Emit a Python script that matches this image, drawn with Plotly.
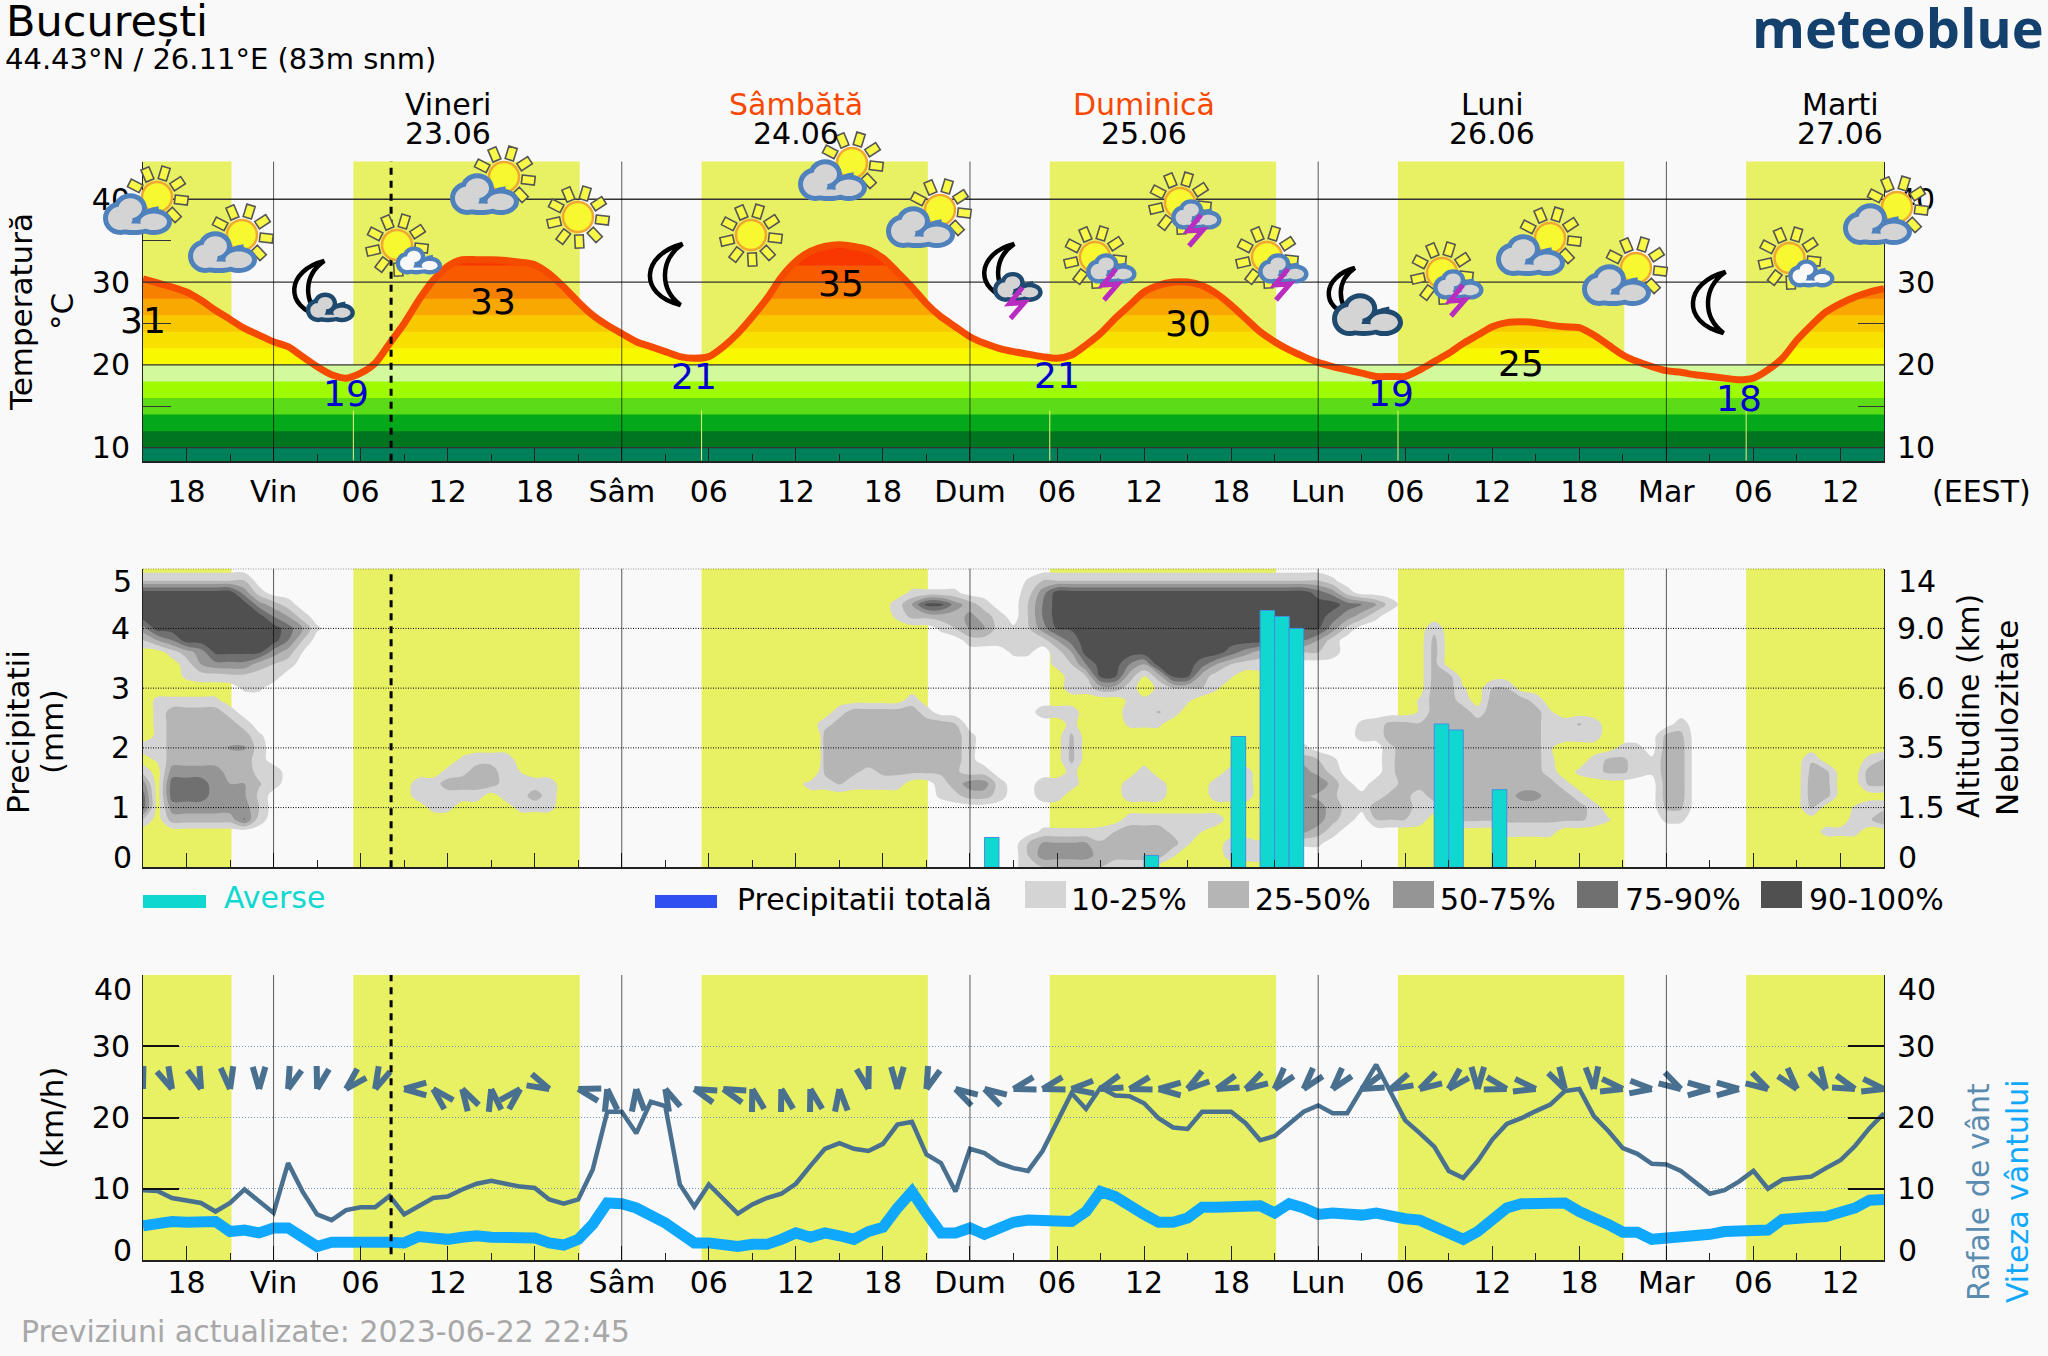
import math
import numpy as np
import plotly.graph_objects as go

# ---------- canvas / layout geometry ----------
W, H = 2048, 1356
LEFT, RIGHT = 143, 1884
P1 = (161.5, 460.7)
P2 = (568.7, 867.3)
P3 = (975.0, 1260.0)
T_RANGE = [8.43, 44.56]
BG = "#F9F9F9"
YELLOW = "#E8F064"
FONT = "DejaVu Sans"

# ---------- data ----------
HOURS = list(range(-9, 112))  # hours relative to Friday 00:00
TEMP = [30.4, 29.9, 29.4, 28.8, 27.8, 26.6, 25.5, 24.4, 23.6, 22.8, 22.2, 21.0, 19.8, 18.8, 18.4, 19.0, 20.2, 22.6, 25.0, 27.8, 30.2, 31.9, 32.7, 32.7, 32.7, 32.6, 32.4, 32.1, 31.0, 29.4, 27.6, 26.0, 24.8,
        23.8, 22.8, 22.2, 21.6, 21.0, 20.8, 21.0, 22.2, 23.8, 25.8, 28.0, 30.6, 32.5, 33.7, 34.3, 34.5, 34.3, 33.9, 32.9, 31.2, 29.4, 27.4, 25.8, 24.6,
        23.4, 22.6, 22.0, 21.6, 21.3, 21.0, 20.8, 21.2, 22.4, 23.8, 25.6, 27.2, 28.8, 29.6, 30.0, 30.0, 29.6, 28.6, 27.2, 25.6, 24.0, 22.8, 21.8, 21.0,
        20.3, 19.8, 19.4, 19.0, 18.6, 18.6, 18.6, 19.4, 20.4, 21.4, 22.6, 23.6, 24.6, 25.1, 25.2, 25.1, 24.8, 24.6, 24.5, 23.6, 22.4, 21.2, 20.4, 19.8,
        19.3, 19.1, 18.8, 18.6, 18.4, 18.2, 18.4, 19.4, 20.8, 23.0, 24.8, 26.4, 27.4, 28.2, 28.8, 29.2]
GUST = [9.8, 9.7, 8.7, 8.4, 8.0, 6.8, 8.0, 9.9, 8.2, 6.6, 13.6, 9.6, 6.4, 5.6, 7.0, 7.4, 7.4, 9.0, 6.4, 7.5, 8.7, 8.9, 9.9, 10.7, 11.1, 10.7, 10.3, 10.1, 8.5, 7.9, 8.5, 12.7, 20.8,
        20.8, 17.8, 22.2, 21.6, 10.6, 7.5, 10.6, 8.5, 6.5, 7.8, 8.7, 9.3, 10.7, 13.2, 15.6, 16.4, 15.6, 15.3, 16.3, 19.0, 19.4, 14.8, 13.6, 9.6,
        15.6, 15.0, 13.6, 12.9, 12.5, 15.3, 19.5, 23.4, 21.2, 24.2, 23.1, 23.0, 22.0, 19.9, 18.6, 18.4, 20.8, 20.8, 20.8, 19.2, 16.8, 17.4, 19.0, 20.8,
        21.7, 20.6, 20.6, 23.9, 27.4, 23.5, 19.6, 17.8, 15.9, 12.5, 11.5, 13.9, 16.9, 19.1, 19.9, 20.9, 21.8, 23.7, 24.0, 20.2, 18.1, 15.7, 14.9, 13.5,
        13.4, 12.5, 10.8, 9.3, 9.8, 11.0, 12.5, 10.0, 11.3, 11.5, 11.7, 12.9, 14.0, 16.0, 18.5, 20.6]
WIND = [4.8, 5.2, 5.4, 5.3, 5.3, 5.4, 4.0, 4.2, 3.8, 4.5, 4.5, 3.2, 1.9, 2.5, 2.6, 2.6, 2.5, 2.5, 2.4, 3.3, 3.2, 2.9, 3.2, 3.4, 3.2, 3.1, 3.1, 3.1, 2.4, 2.1, 2.9, 5.0, 8.0,
        7.9, 7.3, 6.4, 5.2, 3.8, 2.4, 2.4, 2.2, 1.9, 2.2, 2.2, 2.9, 3.8, 3.2, 3.8, 3.4, 2.9, 4.0, 4.6, 7.3, 9.6, 6.6, 3.8, 3.8,
        4.5, 3.6, 4.5, 5.3, 5.6, 5.6, 5.4, 5.4, 6.8, 9.6, 8.9, 7.5, 6.4, 5.3, 5.3, 5.9, 7.4, 7.4, 7.4, 7.6, 7.6, 6.6, 7.9, 7.3,
        6.4, 6.6, 6.5, 6.3, 6.6, 6.1, 5.8, 5.6, 4.7, 3.8, 2.9, 4.0, 5.9, 7.3, 7.9, 8.0, 8.0, 8.0, 6.8, 6.1, 5.0, 3.9, 3.9, 2.9,
        3.1, 3.1, 3.2, 3.6, 4.0, 4.0, 4.2, 4.2, 5.7, 6.0, 6.0, 6.1, 6.6, 7.3, 8.4, 8.5]
ARROW_HOURS = list(range(-9, 112, 2))
ARROW_DIR = [165, 155, 160, 172, 180, 200, 195, 225, 205, 270, 315, 330, 350, 45, 115, 285, 350, 355, 335, 290, 290, 345, 345, 345, 355, 165, 180, 200, 300, 300,
             255, 255, 265, 250, 255, 270, 235, 250, 240, 220, 220, 220, 250, 245, 240, 225, 180, 105, 100, 150, 175, 100, 95, 120, 90, 90, 120, 140, 150, 110, 100]
SHOWER_HOURS = [49, 60, 66, 68, 69, 70, 80, 81, 84]
SHOWER_MM = [0.5, 0.2, 2.19, 4.3, 4.2, 4.0, 2.4, 2.3, 1.3]
SUNRISE = [5.5, 29.5, 53.5, 77.5, 101.5]
SUNSET = [-2.9, 21.1, 45.1, 69.1, 93.1]
NOW_HOUR = 8.1
DAY_HOURS = [0, 24, 48, 72, 96]
XTICK_VALS = list(range(-6, 109, 6))
XTICK_TEXT = ["18", "Vin", "06", "12", "18", "Sâm", "06", "12", "18", "Dum", "06", "12", "18", "Lun", "06", "12", "18", "Mar", "06", "12"]
XMINOR_VALS = list(range(-3, 112, 6))
DAY_NAMES = ["Vineri", "Sâmbătă", "Duminică", "Luni", "Marti"]
DAY_DATES = ["23.06", "24.06", "25.06", "26.06", "27.06"]
DAY_NAME_COLORS = ["#000000", "#F84800", "#F84800", "#000000", "#000000"]
DAY_NOON = [12, 36, 60, 84, 108]
MAX_LABELS = [("31", -9.0, 25.4), ("33", 15.1, 27.6), ("35", 39.1, 29.8), ("30", 63.0, 25.0), ("25", 86.0, 20.2)]
MIN_LABELS = [("19", 5.0, 16.5), ("21", 29.0, 18.6), ("21", 54.0, 18.7), ("19", 77.0, 16.6), ("18", 101.0, 16.0)]
HOT_EDGES = [36, 34, 32, 30, 28, 26, 24, 22]
HOT_COLORS = ["#F82000", "#F83800", "#F85A00", "#F88000", "#F8A800", "#F8C800", "#F8E000", "#F8F800"]
COOL_EDGES = [20, 18, 16, 14, 12, 10]
COOL_COLORS = ["#D2F99B", "#9FFB00", "#5BDC16", "#03A81B", "#00751F", "#00805A"]
CLOUD_LABELS = ["10-25%", "25-50%", "50-75%", "75-90%", "90-100%"]
CLOUD_COLORS = ["#D4D4D4", "#B5B5B5", "#959595", "#707070", "#505050"]
ALT_TICKS = ["0", "1.5", "3.5", "6.0", "9.0", "14"]

# cloud cover class (0 none .. 5 = 90-100%) per altitude row: spans (first hour, last hour, class)
CLOUD_LEVELS = [round(0.2 * i, 1) for i in range(26)]
CLOUD_SPANS = {
    4.8: [(-9, -2, 1.5), (52, 52, .6), (53, 72, 1.5), (73, 73, .7)],
    4.6: [(-9, -3, 5), (-2, -2, 3), (-1, -1, 1), (44, 47, .7), (52, 52, 1), (53, 53, 3), (54, 71, 5), (72, 72, 4), (73, 73, 3), (74, 74, 1)],
    4.4: [(-9, -2, 5), (-1, -1, 3), (0, 0, 2), (1, 1, 1), (43, 43, 1), (44, 44, 2.5), (45, 46, 4.8), (47, 47, 3), (48, 48, 2), (49, 49, 1), (52, 52, 1.5), (53, 53, 3.5), (54, 73, 5), (74, 74, 4), (75, 75, 3.5), (76, 76, 2.5), (77, 77, 1)],
    4.2: [(-9, -1, 5), (0, 0, 3.5), (1, 1, 2.5), (2, 2, 1), (43, 43, .7), (44, 45, 1.8), (46, 47, 2), (48, 48, 2.8), (49, 49, 2), (50, 50, 1), (52, 52, 1.5), (53, 53, 3.5), (54, 72, 5), (73, 73, 4), (74, 74, 3), (75, 75, 2), (76, 76, .7)],
    4.0: [(-9, -9, 3), (-8, 0, 5), (1, 1, 4), (2, 2, 2.5), (3, 3, .7), (46, 46, .7), (47, 47, 1.5), (48, 49, 2.6), (50, 50, 1), (51, 51, .7), (52, 52, 1.3), (53, 53, 3), (54, 72, 4.6), (73, 73, 3), (74, 74, 1.2), (80, 80, 1.2)],
    3.8: [(-9, -9, 1.5), (-8, -8, 2.5), (-7, -7, 3.5), (-6, 0, 5), (1, 1, 3.5), (2, 2, 1.5), (48, 49, 1), (50, 51, 1), (52, 53, 1), (54, 54, 2.5), (55, 55, 4), (56, 68, 5), (69, 71, 3.5), (72, 72, 2.5), (73, 73, 1), (80, 80, 1.8)],
    3.6: [(-7, -7, 1), (-6, -6, 2), (-5, -5, 3), (-4, -1, 4.7), (0, 0, 3), (1, 1, 2), (2, 2, .5), (51, 52, .7), (54, 54, 1), (55, 55, 2.5), (56, 65, 5), (66, 66, 4), (67, 67, 3), (68, 68, 2), (69, 72, 1.5), (73, 73, 1), (80, 80, 1.9)],
    3.4: [(-6, -6, 1), (-5, -5, 2.5), (-4, -2, 3.2), (-1, -1, 2), (0, 0, 1.5), (1, 1, 1), (54, 54, .8), (55, 55, 1.5), (56, 56, 3.5), (57, 58, 5), (59, 59, 3.5), (60, 60, 2.5), (61, 63, 5), (64, 64, 4), (65, 65, 2.5), (66, 66, 1.5), (67, 68, 1), (80, 80, 1.9)],
    3.2: [(-6, -6, .7), (-5, -4, 1), (-3, -2, 1.2), (-1, 0, 1), (55, 55, 1), (56, 56, 1.5), (57, 58, 4.7), (59, 59, 2), (60, 60, .5), (61, 61, 2), (62, 63, 4.7), (64, 64, 2), (65, 65, 1), (66, 66, .6), (80, 81, 1.9)],
    3.0: [(-2, -1, .7), (55, 56, 1), (57, 58, 2), (59, 59, 1), (61, 61, .7), (62, 64, 1.5), (65, 65, .6), (80, 81, 2), (82, 82, .6), (84, 85, 1.5)],
    2.8: [(-8, -4, .7), (44, 44, 1), (59, 63, .7), (79, 79, .6), (80, 81, 2), (82, 82, 1), (84, 86, 2), (87, 87, 1)],
    2.6: [(-8, -8, .7), (-7, -4, 2), (-3, -3, 1), (39, 39, 1), (40, 44, 2), (45, 45, 1), (53, 55, 1), (59, 60, 1), (61, 61, 1.6), (62, 62, 1), (79, 79, .6), (80, 82, 2), (83, 83, 1), (84, 87, 2), (88, 88, .6)],
    2.4: [(-8, -8, .7), (-7, -3, 2), (-2, -2, 1), (38, 38, 1), (39, 46, 2), (47, 47, 1.5), (55, 55, .8), (59, 61, .7), (75, 75, .7), (76, 76, 1), (77, 78, 1.8), (79, 79, 1.6), (80, 87, 2), (88, 88, .6), (89, 89, 1), (90, 90, 1.6), (91, 91, 1), (97, 97, 1)],
    2.2: [(-8, -8, .7), (-7, -2, 2), (-1, -1, .7), (37, 37, -3), (38, 47, 2), (48, 48, .8), (55, 55, 1.7), (75, 76, .9), (77, 87, 2), (88, 88, .6), (89, 91, 1), (96, 97, 1.8)],
    2.0: [(-9, -9, 1), (-8, -8, .7), (-7, -4, 2), (-3, -2, 2.6), (-1, -1, 1), (37, 37, -3), (38, 47, 2), (48, 48, .8), (55, 55, 1.8), (70, 71, .8), (77, 77, 1.3), (78, 87, 2), (88, 88, .6), (93, 94, .8), (96, 97, 2)],
    1.8: [(-8, -8, .7), (-7, -2, 2), (-1, -1, 1), (13, 13, .7), (14, 16, 1.2), (37, 37, -3), (38, 47, 2), (48, 48, .8), (55, 55, 1.8), (69, 71, 2), (72, 72, 1.5), (73, 73, .7), (77, 77, 1.3), (78, 87, 2), (88, 88, .7), (91, 91, .8), (92, 93, 1.7), (94, 94, 1), (95, 95, .7), (96, 97, 2), (106, 106, 1.4), (110, 110, .8), (111, 111, 1.6)],
    1.6: [(-9, -9, 1.2), (-7, -4, 3), (-3, -2, 2), (-1, 0, 1.2), (12, 12, .8), (13, 13, 1.2), (14, 15, 1.9), (16, 16, 1), (17, 17, .5), (37, 37, -1), (38, 40, 1.7), (41, 41, 1.2), (42, 47, 1.7), (48, 49, 1), (55, 55, .8), (60, 60, 1), (66, 67, .9), (69, 70, 2), (71, 71, 3), (72, 72, 2), (73, 73, 1.2), (77, 77, 1.3), (78, 87, 2), (88, 88, .9), (90, 90, .7), (91, 91, 1.1), (92, 93, 1.7), (94, 94, 1), (95, 95, .7), (96, 97, 2), (106, 107, 1.8), (110, 111, 2)],
    1.4: [(-9, -9, 3), (-7, -5, 4), (-4, -4, 3), (-3, -2, 2.5), (-1, -1, 1.6), (0, 0, 1), (10, 11, 1), (12, 15, 2), (16, 16, 1), (17, 19, 1), (37, 43, 1), (39, 39, 1.6), (46, 46, 1), (47, 47, 2), (48, 49, 3), (50, 50, 1), (53, 55, 1), (59, 61, 1), (65, 67, 1), (69, 70, 2.5), (71, 72, 3.5), (73, 73, 2), (74, 74, .8), (76, 77, 1), (78, 88, 2), (89, 89, .8), (96, 97, 2), (106, 107, 2), (110, 111, 1.8)],
    1.2: [(-9, -9, 4), (-7, -5, 4), (-4, -3, 3), (-2, -2, 2.6), (-1, -1, 1.3), (10, 14, 1), (16, 17, 1), (18, 18, 2), (19, 19, 1), (46, 46, .7), (47, 47, 1.2), (48, 49, 2), (50, 50, 1), (53, 54, 1), (59, 61, 1), (65, 67, 1), (69, 71, 2.5), (72, 72, 2.2), (73, 73, 1.7), (74, 74, 1), (75, 75, .8), (76, 76, 1), (77, 78, 1.8), (79, 79, 1), (80, 85, 2), (86, 87, 2.8), (88, 89, 2), (90, 90, .9), (96, 97, 2), (106, 107, 2)],
    1.0: [(-9, -9, 4), (-7, -3, 3), (-2, -2, 3), (-1, -1, 1.5), (11, 12, .8), (17, 19, .8), (69, 70, 2), (71, 72, 3), (73, 73, 2), (74, 74, 1.2), (75, 75, .8), (76, 78, 2), (79, 80, 1), (81, 90, 2), (91, 91, 1), (96, 97, 1.7), (106, 106, 1.7), (109, 109, .6), (110, 111, 1.2)],
    0.8: [(-9, -9, 1.5), (-7, -3, 2), (-2, -2, 3.6), (-1, -1, 1), (59, 65, 1), (69, 71, 3), (72, 72, 3), (73, 73, 1.8), (74, 74, 1), (76, 78, 1.5), (79, 79, 1), (81, 81, .9), (82, 90, 1.7), (91, 91, 1.2), (92, 92, .6), (96, 97, .7), (109, 109, .9), (110, 110, 1.3), (111, 111, 2.6)],
    0.6: [(53, 56, .7), (57, 57, .8), (58, 58, 1.5), (59, 61, 2), (62, 63, 1.2), (64, 64, .5), (69, 71, 2.7), (72, 72, 2), (73, 73, 1), (85, 88, .9), (107, 109, .8)],
    0.4: [(52, 52, 1.5), (53, 56, 2.6), (57, 57, 1.7), (58, 62, 2), (63, 63, .6), (66, 68, 1), (68, 72, .7)],
    0.2: [(52, 52, 1.5), (53, 56, 3), (57, 57, 2), (58, 61, 2), (62, 62, .6), (66, 68, 1)],
    0.0: [(52, 57, 1.5), (58, 60, .7)],
}

# weather symbols: kind and the position of their sun or moon on the canvas
ICON_KIND = ["sc", "sc", "mc", "sw", "sc", "sun", "moon", "sun", "sc", "sc", "mt", "st", "st", "st", "mb", "st", "sc", "sc", "moon", "sw", "sc"]
ICON_X = [157, 242, 309.5, 397, 504, 578, 666.5, 751, 852, 940, 999.5, 1095, 1180, 1267, 1342, 1442, 1550, 1636, 1709.5, 1789.5, 1897]
ICON_Y = [197, 235, 288.5, 245, 177, 217, 274, 235, 163, 210, 271.5, 257, 203, 257, 292, 273, 238, 268, 302, 258, 207]


# ---------- helpers ----------
def px(x, y):
    return f"{x / W:.5f},{1 - y / H:.5f}"


def ellipse(cx, cy, rx, ry):
    k = 0.5523
    return (f"M{px(cx + rx, cy)} C{px(cx + rx, cy + k * ry)} {px(cx + k * rx, cy + ry)} {px(cx, cy + ry)} "
            f"C{px(cx - k * rx, cy + ry)} {px(cx - rx, cy + k * ry)} {px(cx - rx, cy)} "
            f"C{px(cx - rx, cy - k * ry)} {px(cx - k * rx, cy - ry)} {px(cx, cy - ry)} "
            f"C{px(cx + k * rx, cy - ry)} {px(cx + rx, cy - k * ry)} {px(cx + rx, cy)} Z")


def paper_shape(path, fill="rgba(0,0,0,0)", line=None, lw=0):
    return dict(type="path", xref="paper", yref="paper", path=path, fillcolor=fill, layer="above", fillrule="nonzero",
                line=dict(color=line or "rgba(0,0,0,0)", width=lw))


def sun(cx, cy):
    out, rays = [], ""
    for i in range(9):
        a = math.radians(17 + 40 * i)
        ux, uy = math.sin(a), -math.cos(a)
        vx, vy = -uy, ux
        pts = [(18, -4.3), (31, -4.3), (31, 4.3), (18, 4.3)]
        rays += "M" + " L".join(px(cx + r * ux + s * vx, cy + r * uy + s * vy) for r, s in pts) + " Z "
    out.append(paper_shape(rays, "#F8F848", "#555555", 1.6))
    out.append(paper_shape(ellipse(cx, cy, 15, 15), "#F8F830", "#F0A830", 2.5))
    return out


def cloud(cx, cy, s, fill="#D4D4D4", edge="#4F81BD"):
    lobes = [(-16.7, 3.3, 17.3, 16.7), (-6.7, -6.7, 16.7, 15), (16.7, 6.7, 18.3, 13.3), (-3.3, 11.7, 20, 8.3)]
    stroke = 5 * (0.6 + 0.4 * s)
    outer = " ".join(ellipse(cx + a * s, cy + b * s, c * s, d * s) for a, b, c, d in lobes)
    inner = " ".join(ellipse(cx + a * s, cy + b * s, c * s - stroke, d * s - stroke) for a, b, c, d in lobes)
    curl = f"M{px(cx + 1.7 * s, cy + 3.3 * s)} Q{px(cx + 8.3 * s, cy - 5 * s)} {px(cx + 21.7 * s, cy - 6.7 * s)}"
    return [paper_shape(outer, edge), paper_shape(inner, fill), paper_shape(curl, line=edge, lw=4 * (0.6 + 0.4 * s))]


def moon(cx, cy, s=1.0):
    q = lambda a, b: px(cx + a * s, cy + b * s)
    path = (f"M{q(16, -30)} C{q(-24, -20)} {q(-30, 20)} {q(14, 31)} "
            f"C{q(-7, 15)} {q(-7, -14)} {q(16, -30)} Z")
    return [paper_shape(path, "#F9F9F9", "#000000", 4.5)]


def bolt(cx, cy):
    pts = [(5, 2), (-8, 18), (7, 17), (-7, 33)]
    path = "M" + " L".join(px(cx + a, cy + b) for a, b in pts)
    return [paper_shape(path, line="#B82CC0", lw=5)]


DARK = "#1F4A70"


def icon(kind, x, y):
    if kind == "sun":
        return sun(x, y)
    if kind == "sc":
        return sun(x, y) + cloud(x - 20, y + 18, 1.0)
    if kind == "sw":
        return sun(x, y) + cloud(x + 21.5, y + 16, 0.67, "#F8F8F8")
    if kind == "st":
        return sun(x, y) + cloud(x + 16, y + 12, 0.73) + bolt(x + 16, y + 10)
    if kind == "moon":
        return moon(x, y)
    if kind == "mc":
        return moon(x, y, 0.92) + cloud(x + 20.5, y + 19.5, 0.71, edge=DARK)
    if kind == "mt":
        return moon(x, y, 0.92) + cloud(x + 18, y + 16, 0.72, edge=DARK) + bolt(x + 18, y + 14)
    if kind == "mb":
        return moon(x, y, 0.8) + cloud(x + 25, y + 23.5, 1.03, edge=DARK)
    return []


def ann(x, y, text, size=30, color="#000000", anchor="center", angle=0, **kw):
    return dict(xref="paper", yref="paper", x=x / W, y=1 - y / H, text=text, showarrow=False, xanchor=anchor,
                yanchor="middle", textangle=angle, font=dict(family=FONT, size=size, color=color), **kw)


# ---------- traces ----------
fig = go.Figure()
RX = [HOURS[0], HOURS[-1]]

# temperature colour bands, top band first so each lower band paints over it
fine_x = np.arange(HOURS[0], HOURS[-1] + 0.01, 0.1)
fine_t = np.interp(fine_x, HOURS, TEMP)
for edge, col in zip(HOT_EDGES, HOT_COLORS):
    up = np.minimum(fine_t, edge)
    up = np.maximum(up, 20)
    fig.add_trace(go.Scatter(x=np.r_[fine_x, fine_x[::-1]], y=np.r_[up, np.full(fine_x.size, 20.0)], fill="toself",
                             fillcolor=col, mode="none", hoverinfo="skip", showlegend=False))
for edge, col in zip(COOL_EDGES, COOL_COLORS):
    fig.add_trace(go.Scatter(x=[RX[0], RX[1], RX[1], RX[0]], y=[edge, edge, T_RANGE[0], T_RANGE[0]], fill="toself",
                             fillcolor=col, mode="none", hoverinfo="skip", showlegend=False))
fig.add_trace(go.Scatter(x=[RX[0], RX[1], RX[1], RX[0]], y=[10, 10, T_RANGE[0], T_RANGE[0]], fill="toself",
                         fillcolor="#00805A", mode="none", hoverinfo="skip", showlegend=False))
fig.add_trace(go.Scatter(x=HOURS, y=TEMP, mode="lines", line=dict(color="#F54B00", width=7, shape="spline", smoothing=0.7),
                         showlegend=False, name="Temperatură"))
fig.add_trace(go.Scatter(x=RX, y=[0, 0], xaxis="x", yaxis="y6", mode="lines", line=dict(width=0), hoverinfo="skip", showlegend=False))

# cloud cover
z = np.zeros((len(CLOUD_LEVELS), len(HOURS)))
for lev, spans in CLOUD_SPANS.items():
    r = CLOUD_LEVELS.index(lev)
    for h0, h1, v in spans:
        z[r, h0 - HOURS[0]: h1 - HOURS[0] + 1] = v
stops = [[0, "rgba(0,0,0,0)"]] + [[(i + 1) / 5, c] for i, c in enumerate(CLOUD_COLORS)]
fig.add_trace(go.Contour(x=HOURS, y=CLOUD_LEVELS, z=z, xaxis="x2", yaxis="y2", zmin=0, zmax=5, colorscale=stops,
                         autocontour=False, contours=dict(start=0.5, end=4.5, size=1, coloring="fill", showlines=False),
                         line=dict(width=0), showscale=False, hoverinfo="skip"))
for lev in [1, 2, 3, 4, 5]:
    fig.add_trace(go.Scatter(x=RX, y=[lev, lev], xaxis="x2", yaxis="y2", mode="lines",
                             line=dict(color="#000000", width=1, dash="1px,1.5px"), hoverinfo="skip", showlegend=False))
fig.add_trace(go.Bar(x=[h + 0.5 for h in SHOWER_HOURS], y=SHOWER_MM, width=1, xaxis="x2", yaxis="y3", name="Averse",
                     marker=dict(color="#10D8D0", line=dict(color="#4090E0", width=1)), showlegend=False))

# wind
fig.add_trace(go.Scatter(x=HOURS, y=GUST, xaxis="x3", yaxis="y4", mode="lines", line=dict(color="#4A7090", width=4.5),
                         name="Rafale de vânt", showlegend=False))
fig.add_trace(go.Scatter(x=HOURS, y=WIND, xaxis="x3", yaxis="y4", mode="lines", line=dict(color="#10A8FC", width=11),
                         name="Viteza vântului", showlegend=False))
px_per_h = (RIGHT - LEFT) / (HOURS[-1] - HOURS[0])
px_per_kmh = (P3[1] - P3[0]) / 40
ax, ay = [], []
for h, d in zip(ARROW_HOURS, ARROW_DIR):
    for side in (-1, 1):
        a = math.radians(d + 180 + side * 16)
        ax += [h, h + 23 * math.sin(a) / px_per_h, None]
        ay += [24.0, 24.0 + 23 * math.cos(a) / px_per_kmh, None]
fig.add_trace(go.Scatter(x=ax, y=ay, xaxis="x3", yaxis="y4", mode="lines", line=dict(color="#4A7090", width=6),
                         hoverinfo="skip", showlegend=False, cliponaxis=False))
fig.add_trace(go.Scatter(x=RX, y=[0, 0], xaxis="x3", yaxis="y5", mode="lines", line=dict(width=0), hoverinfo="skip", showlegend=False))


# ---------- axes ----------
def xa(anchor, labels, standoff=8):
    return dict(domain=[LEFT / W, RIGHT / W], range=RX, anchor=anchor, showgrid=False, zeroline=False, showline=True,
                linecolor="#222222", linewidth=2, mirror=False, ticks="inside", ticklen=14, tickcolor="#222222", tickwidth=1,
                tickmode="array", tickvals=XTICK_VALS, ticktext=XTICK_TEXT if labels else [""] * len(XTICK_VALS),
                showticklabels=labels, ticklabelstandoff=standoff, tickfont=dict(family=FONT, size=30, color="#000000"),
                minor=dict(ticks="inside", ticklen=7, tickcolor="#222222", tickwidth=1, tickmode="array", tickvals=XMINOR_VALS))


def ya(panel, rng, anchor, side, vals, text=None, **kw):
    d = dict(domain=[1 - panel[1] / H, 1 - panel[0] / H], range=rng, anchor=anchor, side=side, showgrid=False, zeroline=False,
             showline=True, linecolor="#222222", linewidth=1, tickmode="array", tickvals=vals,
             ticktext=text if text is not None else [str(v) for v in vals], ticklabelstandoff=6,
             tickfont=dict(family=FONT, size=30, color="#000000"))
    d.update(kw)
    return d


minor_l = dict(ticks="inside", ticklen=28, tickcolor="#333333", tickwidth=1, tickmode="array", tickvals=[15, 25, 35])
minor_r = dict(ticks="inside", ticklen=26, tickcolor="#333333", tickwidth=1, tickmode="array", tickvals=[15, 25])
major = dict(ticks="inside", ticklen=36, tickcolor="#111111", tickwidth=1.5)

layout = dict(
    width=W, height=H, autosize=False, margin=dict(l=0, r=0, t=0, b=0, pad=0, autoexpand=False), paper_bgcolor=BG, plot_bgcolor=BG,
    showlegend=False, barmode="overlay", font=dict(family=FONT, color="#000000"),
    xaxis=xa("y", True, 3), xaxis2=xa("y2", False), xaxis3=xa("y4", True, -5),
    yaxis=ya(P1, T_RANGE, "x", "left", [10, 20, 30, 40], minor=minor_l, ticks=""),
    yaxis6=ya(P1, T_RANGE, "x", "right", [10, 20, 30, 40], overlaying="y", minor=minor_r, ticks=""),
    yaxis2=ya(P2, [0, 5], "x2", "right", [1, 2, 3, 4], ALT_TICKS[1:5]),
    yaxis3=ya(P2, [0, 5], "x2", "left", [1, 2, 3, 4], overlaying="y2"),
    yaxis4=ya(P3, [0, 40], "x3", "left", [10, 20, 30, 40], ["10", "20", "30", ""], showgrid=True, gridcolor="#6E93B0", gridwidth=1,
              griddash="1px,2px", **major),
    yaxis5=ya(P3, [0, 40], "x3", "right", [10, 20, 30, 40], ["10", "20", "30", ""], overlaying="y4", **major),
)

# ---------- shapes ----------
shapes = []
for xr, yr in [("x", "y"), ("x2", "y2"), ("x3", "y4")]:
    for a, b in zip([RX[0]] + SUNRISE, SUNSET + [RX[1]]):
        shapes.append(dict(type="rect", xref=xr, yref=f"{yr} domain", x0=a, x1=b, y0=0, y1=1, fillcolor=YELLOW, line=dict(width=0), layer="below"))
# lines across the temperature panel, above its colour bands
for v in [10, 20, 30, 40]:
    shapes.append(dict(type="line", xref="x", yref="y", x0=RX[0], x1=RX[1], y0=v, y1=v, line=dict(color="#333333", width=1.3), layer="above"))
for s in SUNRISE:
    shapes.append(dict(type="line", xref="x", yref="y", x0=s, x1=s, y0=T_RANGE[0], y1=14.5, line=dict(color="#F2F07A", width=1), layer="above"))
for xr, yr in [("x", "y"), ("x2", "y2"), ("x3", "y4")]:
    for d in DAY_HOURS:
        shapes.append(dict(type="line", xref=xr, yref=f"{yr} domain", x0=d, x1=d, y0=0, y1=1, line=dict(color="rgba(0,0,0,0.65)", width=1), layer="above"))
    shapes.append(dict(type="line", xref=xr, yref=f"{yr} domain", x0=NOW_HOUR, x1=NOW_HOUR, y0=0.02 if xr == "x3" else 0, y1=1,
                       line=dict(color="#000000", width=3, dash="7px,6px"), layer="above"))
for k, x, y in zip(ICON_KIND, ICON_X, ICON_Y):
    shapes += icon(k, x, y)

# legend swatches
for x0, x1, col in [(143, 206, "#10D8D0"), (655, 717, "#3050F0")]:
    shapes.append(dict(type="rect", xref="paper", yref="paper", x0=x0 / W, x1=x1 / W, y0=1 - 908 / H, y1=1 - 895 / H, fillcolor=col, line=dict(width=0)))
SW_X = [1025, 1208, 1393, 1577, 1761]
SW_T = [1069, 1253, 1438, 1623, 1807]
for x0, col in zip(SW_X, CLOUD_COLORS):
    shapes.append(dict(type="rect", xref="paper", yref="paper", x0=x0 / W, x1=(x0 + 41) / W, y0=1 - 908 / H, y1=1 - 881 / H, fillcolor=col, line=dict(width=0)))
layout["shapes"] = shapes

# ---------- text ----------
A = [
    ann(4, 21, "București", 43, anchor="left"),
    ann(3, 59, "44.43°N / 26.11°E (83m snm)", 29, anchor="left"),
    dict(xref="paper", yref="paper", x=2046 / W, y=1 - 27 / H, text="meteoblue", showarrow=False, xanchor="right", yanchor="middle",
         font=dict(family="Open Sans", size=54, color="#14406E", weight=700)),
    ann(1981, 491, "(EEST)"),
    ann(21, 312, "Temperatură", 31, angle=-90),
    ann(62, 312, "°C", 31, angle=-90),
    ann(18, 732, "Precipitatii", 31, angle=-90),
    ann(52, 732, "(mm)", 31, angle=-90),
    ann(52, 1118, "(km/h)", 31, angle=-90),
    ann(1968, 706, "Altitudine (km)", 30, angle=-90),
    ann(2007, 718, "Nebulozitate", 31, angle=-90),
    ann(1978, 1192, "Rafale de vânt", 30, "#5B8CB0", angle=-90),
    ann(2017, 1191, "Viteza vântului", 30, "#10A8FC", angle=-90),
    ann(222, 898, "Averse", 30, "#10D8D0", anchor="left"),
    ann(735, 899, "Precipitatii totală", anchor="left"),
    ann(19, 1331, "Previziuni actualizate: 2023-06-22 22:45", 30, "#A8A8A8", anchor="left"),
    # end labels shifted inside their panels, as in the source
    ann(134, 581, "5", anchor="right"), ann(134, 857, "0", anchor="right"),
    ann(1896, 581, ALT_TICKS[5], anchor="left"), ann(1896, 857, ALT_TICKS[0], anchor="left"),
    ann(134, 989, "40", anchor="right"), ann(134, 1250, "0", anchor="right"),
    ann(1896, 989, "40", anchor="left"), ann(1896, 1250, "0", anchor="left"),
]
for t, x in zip(SW_T, CLOUD_LABELS):
    A.append(ann(t, 899, x, anchor="left"))
for n, d, c, h in zip(DAY_NAMES, DAY_DATES, DAY_NAME_COLORS, DAY_NOON):
    A.append(dict(xref="x", yref="paper", x=h, y=1 - 105 / H, text=n, showarrow=False, yanchor="middle", font=dict(family=FONT, size=30, color=c)))
    A.append(dict(xref="x", yref="paper", x=h, y=1 - 133 / H, text=d, showarrow=False, yanchor="middle", font=dict(family=FONT, size=30, color="#000000")))
for t, h, v in MAX_LABELS:
    A.append(dict(xref="x", yref="y", x=h, y=v, text=t, showarrow=False, font=dict(family=FONT, size=36, color="#000000")))
for t, h, v in MIN_LABELS:
    A.append(dict(xref="x", yref="y", x=h, y=v, text=t, showarrow=False, font=dict(family=FONT, size=36, color="#0000D0")))
layout["annotations"] = A

fig.update_layout(**layout)
fig.write_html("out.html", config=dict(displayModeBar=False),
               post_script="document.body.style.margin='0';document.body.style.overflow='hidden';document.documentElement.style.overflow='hidden';")
